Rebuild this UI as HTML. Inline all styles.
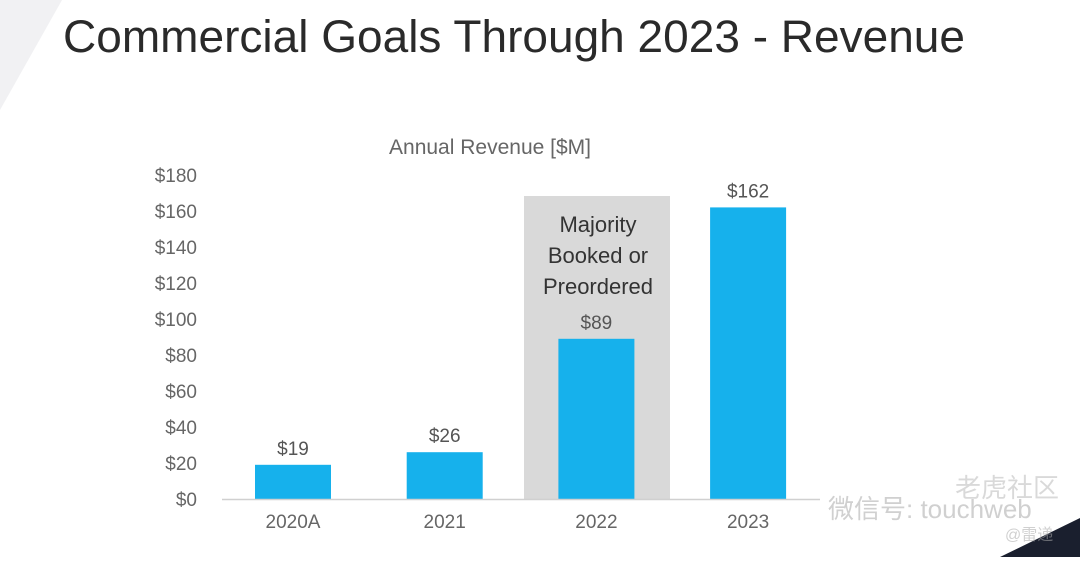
<!DOCTYPE html>
<html><head><meta charset="utf-8"><style>
body{margin:0;width:1080px;height:557px;overflow:hidden;background:#fff;font-family:"Liberation Sans","Noto Sans CJK SC",sans-serif;}
</style></head><body>
<svg width="1080" height="557" viewBox="0 0 1080 557" xmlns="http://www.w3.org/2000/svg">
<polygon points="0,0 62,0 0,110" fill="#f1f1f3"/>
<polygon points="1080,518 1080,557 1000,557" fill="#1a1f2e"/>
<text x="63" y="52" font-size="45" fill="#2a2a2a" textLength="902" lengthAdjust="spacingAndGlyphs" font-family="Liberation Sans, sans-serif">Commercial Goals Through 2023 - Revenue</text>
<text x="490" y="154" font-size="21" fill="#666" text-anchor="middle">Annual Revenue [$M]</text>
<rect x="524" y="196" width="146" height="303" fill="#d9d9d9"/>
<text x="598" y="232" font-size="22" fill="#333" text-anchor="middle">Majority</text>
<text x="598" y="263" font-size="22" fill="#333" text-anchor="middle">Booked or</text>
<text x="598" y="294" font-size="22" fill="#333" text-anchor="middle">Preordered</text>
<g id="ticks"></g><g id="bars"></g>
<line x1="222" y1="499.5" x2="820" y2="499.5" stroke="#d0d0d0" stroke-width="1.5"/>
<g opacity="0.55">
<text x="828" y="518" font-size="26" fill="#aaa">微信号: touchweb</text>
<text x="955" y="497" font-size="26" fill="#bbb">老虎社区</text>
<text x="1005" y="540" font-size="16" fill="#aaa">@雷递</text>
</g>
</svg>
<script>
const categories=["2020A","2021","2022","2023"];
const values=[19,26,89,162];
const valueLabels=["$19","$26","$89","$162"];
const tickValues=[0,20,40,60,80,100,120,140,160,180];
const NS="http://www.w3.org/2000/svg";
const y=v=>499-v*1.8;
const xc=i=>293+i*151.7;
const tg=document.getElementById('ticks'),bg=document.getElementById('bars');
tickValues.forEach(t=>{const e=document.createElementNS(NS,'text');
e.setAttribute('x',197);e.setAttribute('y',y(t)+7);e.setAttribute('text-anchor','end');e.setAttribute('font-size','19');e.setAttribute('fill','#666');


e.textContent='$'+t;tg.appendChild(e);});
categories.forEach((c,i)=>{const r=document.createElementNS(NS,'rect');
r.setAttribute('x',xc(i)-38);r.setAttribute('width',76);r.setAttribute('y',y(values[i]));r.setAttribute('height',499-y(values[i]));r.setAttribute('fill','#16b1ec');


bg.appendChild(r);
const l=document.createElementNS(NS,'text');l.setAttribute('x',xc(i));l.setAttribute('y',y(values[i])-10);l.setAttribute('text-anchor','middle');l.setAttribute('font-size','19');l.setAttribute('fill','#555');


l.textContent=valueLabels[i];bg.appendChild(l);
const x=document.createElementNS(NS,'text');x.setAttribute('x',xc(i));x.setAttribute('y',528);x.setAttribute('text-anchor','middle');x.setAttribute('font-size','19');x.setAttribute('fill','#666');


x.textContent=c;bg.appendChild(x);});
</script>
</body></html>
